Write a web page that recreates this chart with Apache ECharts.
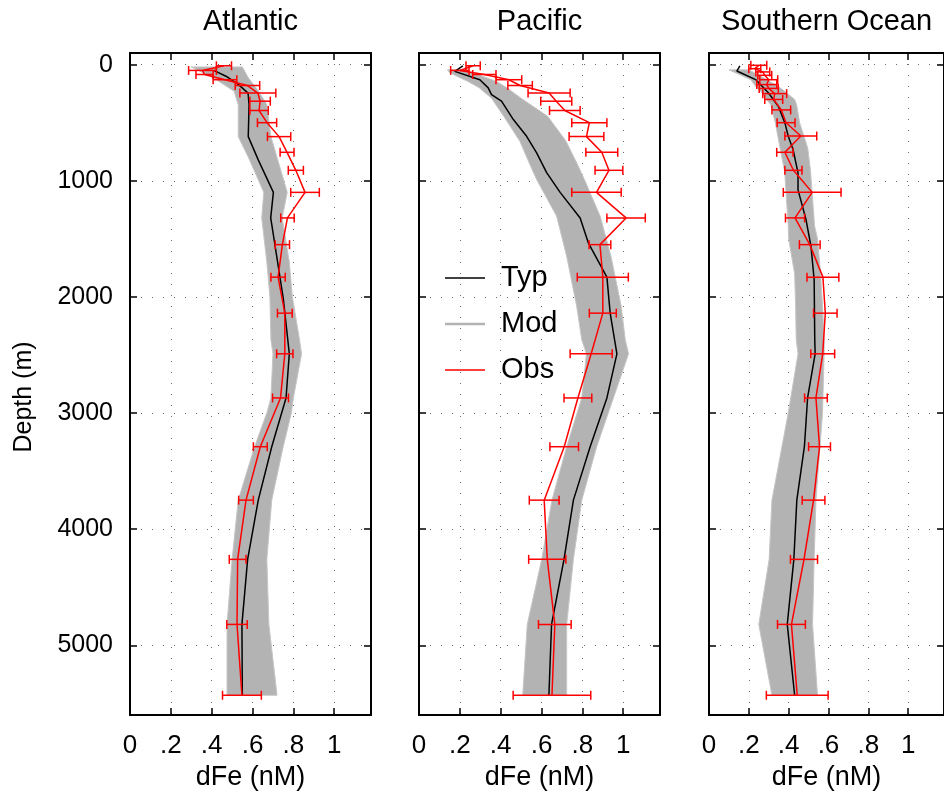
<!DOCTYPE html>
<html>
<head>
<meta charset="utf-8">
<script src="https://cdn.jsdelivr.net/npm/echarts@6/dist/echarts.min.js"></script>
<style>
  html, body { margin: 0; padding: 0; background: #fff; }
  #chart { width: 944px; height: 797px; }
</style>
</head>
<body>
<div id="chart"></div>
<script>
// ---- basin names and axis ticks ----
const basins = ['Atlantic', 'Pacific', 'Southern Ocean'];
const xTickValues = [0, 0.2, 0.4, 0.6, 0.8, 1];
const xTickLabels = ['0', '.2', '.4', '.6', '.8', '1'];
const depthTicks = [0, 1000, 2000, 3000, 4000, 5000];

// ---- Atlantic ----
// observations: depth (m), mean dFe (nM), error half-width (nM)
const atlObsDepth = [10, 50, 85, 130, 180, 245, 315, 395, 500, 620, 755, 910, 1100, 1320, 1550, 1830, 2140, 2490, 2870, 3290, 3750, 4260, 4820, 5430];
const atlObsFe = [0.46, 0.355, 0.365, 0.465, 0.575, 0.626, 0.637, 0.632, 0.671, 0.73, 0.769, 0.812, 0.857, 0.771, 0.746, 0.725, 0.758, 0.758, 0.737, 0.638, 0.568, 0.527, 0.524, 0.548];
const atlObsErr = [0.037, 0.068, 0.042, 0.058, 0.06, 0.088, 0.05, 0.045, 0.047, 0.057, 0.034, 0.037, 0.07, 0.033, 0.035, 0.035, 0.036, 0.04, 0.039, 0.034, 0.036, 0.041, 0.05, 0.095];
// typical model profile
const atlTypDepth = [50, 100, 170, 245, 345, 620, 820, 1100, 1320, 2020, 2490, 2870, 3290, 3750, 4260, 4820, 5430];
const atlTypFe = [0.41, 0.47, 0.53, 0.578, 0.583, 0.579, 0.628, 0.702, 0.689, 0.751, 0.78, 0.764, 0.694, 0.628, 0.576, 0.548, 0.55];
// envelope of the model ensemble
const atlModDepth = [20, 115, 230, 345, 620, 800, 1100, 1320, 1700, 2000, 2370, 2490, 2870, 3000, 3290, 3750, 4260, 4820, 5430];
const atlModLo = [0.30, 0.41, 0.51, 0.53, 0.53, 0.58, 0.655, 0.645, 0.67, 0.685, 0.69, 0.70, 0.69, 0.67, 0.61, 0.53, 0.50, 0.475, 0.475];
const atlModHi = [0.55, 0.58, 0.63, 0.67, 0.69, 0.72, 0.77, 0.745, 0.78, 0.795, 0.83, 0.84, 0.80, 0.79, 0.75, 0.694, 0.67, 0.68, 0.72];

// ---- Pacific ----
const pacObsDepth = [10, 50, 85, 130, 180, 245, 315, 395, 500, 620, 755, 910, 1100, 1320, 1550, 1830, 2140, 2490, 2870, 3290, 3750, 4260, 4820, 5430];
const pacObsFe = [0.265, 0.2, 0.32, 0.44, 0.495, 0.637, 0.672, 0.714, 0.834, 0.82, 0.895, 0.93, 0.869, 1.014, 0.886, 0.9, 0.9, 0.843, 0.778, 0.711, 0.613, 0.628, 0.665, 0.651];
const pacObsErr = [0.035, 0.045, 0.057, 0.063, 0.06, 0.103, 0.076, 0.075, 0.086, 0.085, 0.078, 0.068, 0.121, 0.094, 0.053, 0.125, 0.066, 0.103, 0.068, 0.07, 0.073, 0.091, 0.08, 0.19];
const pacTypDepth = [10, 58, 130, 200, 258, 315, 473, 617, 760, 930, 1100, 1320, 1534, 1830, 2140, 2490, 2870, 3290, 3750, 4260, 4820, 5430];
const pacTypFe = [0.215, 0.175, 0.298, 0.339, 0.355, 0.404, 0.462, 0.527, 0.576, 0.625, 0.691, 0.789, 0.829, 0.92, 0.936, 0.969, 0.92, 0.838, 0.756, 0.71, 0.649, 0.636];
const pacModDepth = [45, 70, 145, 200, 290, 445, 660, 860, 990, 1305, 1650, 2080, 2370, 2490, 2870, 3290, 3750, 4260, 4820, 5430];
const pacModLo = [0.14, 0.15, 0.24, 0.295, 0.355, 0.415, 0.494, 0.543, 0.576, 0.674, 0.723, 0.772, 0.797, 0.82, 0.797, 0.723, 0.651, 0.601, 0.53, 0.508];
const pacModHi = [0.20, 0.265, 0.38, 0.43, 0.50, 0.63, 0.72, 0.776, 0.81, 0.887, 0.94, 0.99, 1.01, 1.026, 0.952, 0.87, 0.797, 0.756, 0.723, 0.723];

// ---- Southern Ocean ----
const souObsDepth = [6, 35, 63, 92, 130, 172, 205, 250, 300, 390, 500, 615, 755, 910, 1100, 1320, 1550, 1830, 2140, 2490, 2870, 3290, 3750, 4260, 4820, 5430];
const souObsFe = [0.25, 0.23, 0.27, 0.28, 0.30, 0.29, 0.30, 0.33, 0.325, 0.363, 0.387, 0.461, 0.381, 0.424, 0.518, 0.432, 0.506, 0.572, 0.584, 0.571, 0.537, 0.555, 0.525, 0.477, 0.414, 0.443];
const souObsErr = [0.04, 0.03, 0.035, 0.035, 0.045, 0.05, 0.048, 0.06, 0.045, 0.047, 0.045, 0.08, 0.041, 0.043, 0.145, 0.048, 0.052, 0.08, 0.059, 0.06, 0.057, 0.055, 0.057, 0.068, 0.07, 0.155];
const souTypDepth = [10, 55, 129, 244, 359, 502, 617, 731, 932, 1079, 1334, 1564, 1850, 2367, 2490, 2870, 3290, 3750, 4260, 4820, 5430];
const souTypFe = [0.155, 0.14, 0.234, 0.299, 0.348, 0.381, 0.398, 0.422, 0.447, 0.447, 0.487, 0.512, 0.528, 0.531, 0.533, 0.495, 0.479, 0.441, 0.426, 0.393, 0.43];
const souModDepth = [45, 130, 190, 230, 300, 345, 500, 720, 920, 1390, 1500, 1800, 2080, 2370, 2490, 3000, 3750, 4260, 4820, 5430];
const souModLo = [0.10, 0.21, 0.235, 0.26, 0.29, 0.31, 0.333, 0.357, 0.38, 0.398, 0.40, 0.43, 0.435, 0.438, 0.447, 0.398, 0.316, 0.302, 0.25, 0.316];
const souModHi = [0.20, 0.29, 0.35, 0.38, 0.43, 0.44, 0.455, 0.496, 0.51, 0.53, 0.545, 0.56, 0.57, 0.578, 0.578, 0.57, 0.537, 0.528, 0.52, 0.545];

const panels = [
  { obsDepth: atlObsDepth, obsFe: atlObsFe, obsErr: atlObsErr, typDepth: atlTypDepth, typFe: atlTypFe, modDepth: atlModDepth, modLo: atlModLo, modHi: atlModHi },
  { obsDepth: pacObsDepth, obsFe: pacObsFe, obsErr: pacObsErr, typDepth: pacTypDepth, typFe: pacTypFe, modDepth: pacModDepth, modLo: pacModLo, modHi: pacModHi },
  { obsDepth: souObsDepth, obsFe: souObsFe, obsErr: souObsErr, typDepth: souTypDepth, typFe: souTypFe, modDepth: souModDepth, modLo: souModLo, modHi: souModHi }
];

const FONT = 'Liberation Sans, Arial, Helvetica, sans-serif';
const RED = '#ff0000';
const GREY = '#b3b3b3';
const gridLefts = [130, 419, 709];
const GRID_W = 241, GRID_TOP = 53, GRID_H = 662;
const X_MAX = 1.18;

const xLabel = v => {
  const i = xTickValues.findIndex(t => Math.abs(t - v) < 1e-6);
  return i >= 0 ? xTickLabels[i] : '';
};
const yLabel = v => (depthTicks.indexOf(v) >= 0 ? String(v) : '');

const dotted = { show: true, lineStyle: { color: '#6a6a6a', width: 1, type: [1, 10] } };
const frameLine = { show: true, onZero: false, lineStyle: { color: '#000', width: 2 } };
const inTick = { show: true, inside: true, length: 7, lineStyle: { color: '#000', width: 1.5 } };

// shaded envelope of the ensemble: left edge down, right edge back up
function renderBand(params, api) {
  if (params.dataIndexInside !== 0) return null;
  const n = params.dataInsideLength;
  const pts = [];
  for (let j = 0; j < n; j++) pts.push(api.coord([api.value(0, j), api.value(1, j)]));
  for (let j = n - 1; j >= 0; j--) pts.push(api.coord([api.value(2, j), api.value(1, j)]));
  return {
    type: 'polygon',
    shape: { points: pts },
    style: { fill: GREY, stroke: '#c6c6c6', lineWidth: 1 }
  };
}

// horizontal error bar with end caps
function renderErrorBar(params, api) {
  const d = api.value(1);
  const a = api.coord([api.value(2), d]);
  const b = api.coord([api.value(3), d]);
  const cap = 4.5;
  const style = { stroke: RED, lineWidth: 1.5 };
  return {
    type: 'group',
    children: [
      { type: 'line', shape: { x1: a[0], y1: a[1], x2: b[0], y2: b[1] }, style },
      { type: 'line', shape: { x1: a[0], y1: a[1] - cap, x2: a[0], y2: a[1] + cap }, style },
      { type: 'line', shape: { x1: b[0], y1: b[1] - cap, x2: b[0], y2: b[1] + cap }, style }
    ]
  };
}

const grid = [], xAxis = [], yAxis = [], series = [];

panels.forEach((p, i) => {
  grid.push({ left: gridLefts[i], top: GRID_TOP, width: GRID_W, height: GRID_H, containLabel: false });

  // bottom x axis with labels
  xAxis.push({
    gridIndex: i, type: 'value', position: 'bottom', min: 0, max: X_MAX, interval: 0.2,
    axisLine: frameLine, axisTick: inTick, splitLine: dotted,
    axisLabel: { formatter: xLabel, fontSize: 26, color: '#000', fontFamily: FONT, margin: 18, showMaxLabel: false },
    name: 'dFe (nM)', nameLocation: 'middle', nameGap: 49,
    nameTextStyle: { fontSize: 27, color: '#000', fontFamily: FONT }
  });
  // top x axis: frame, ticks and basin title
  xAxis.push({
    gridIndex: i, type: 'value', position: 'top', min: 0, max: X_MAX, interval: 0.2,
    axisLine: frameLine, axisTick: inTick, splitLine: { show: false }, axisLabel: { show: false },
    name: basins[i], nameLocation: 'middle', nameGap: 17,
    nameTextStyle: { fontSize: 29, color: '#000', fontFamily: FONT }
  });
  // left depth axis
  yAxis.push({
    gridIndex: i, type: 'value', position: 'left', inverse: true, min: -100, max: 5600, splitNumber: 5,
    axisLine: frameLine, axisTick: inTick, splitLine: dotted,
    axisLabel: { show: i === 0, formatter: yLabel, fontSize: 25, color: '#000', fontFamily: FONT, margin: 17, showMinLabel: false, showMaxLabel: false },
    name: i === 0 ? 'Depth (m)' : '', nameLocation: 'middle', nameGap: 93, nameRotate: 90,
    nameTextStyle: { fontSize: 25, color: '#000', fontFamily: FONT, padding: [0, 26, 0, 0] }
  });
  // right depth axis: frame and ticks only
  yAxis.push({
    gridIndex: i, type: 'value', position: 'right', inverse: true, min: -100, max: 5600, splitNumber: 5,
    axisLine: frameLine, axisTick: inTick, splitLine: { show: false }, axisLabel: { show: false }
  });

  const xi = 2 * i, yi = 2 * i;

  series.push({
    name: 'Mod', type: 'custom', xAxisIndex: xi, yAxisIndex: yi, renderItem: renderBand,
    itemStyle: { color: GREY }, encode: { x: [0, 2], y: 1 }, z: 1, silent: true,
    data: p.modDepth.map((d, k) => [p.modLo[k], d, p.modHi[k]])
  });
  series.push({
    name: 'Typ', type: 'line', xAxisIndex: xi, yAxisIndex: yi, symbol: 'none', z: 3,
    lineStyle: { color: '#000', width: 1.5 }, itemStyle: { color: '#000' },
    data: p.typDepth.map((d, k) => [p.typFe[k], d])
  });
  series.push({
    name: 'Obs', type: 'line', xAxisIndex: xi, yAxisIndex: yi, symbol: 'none', z: 4,
    lineStyle: { color: RED, width: 1.5 }, itemStyle: { color: RED },
    data: p.obsDepth.map((d, k) => [p.obsFe[k], d])
  });
  series.push({
    name: 'Obs', type: 'custom', xAxisIndex: xi, yAxisIndex: yi, renderItem: renderErrorBar,
    itemStyle: { color: RED }, encode: { x: [0, 2, 3], y: 1 }, z: 4, silent: true,
    data: p.obsDepth.map((d, k) => [p.obsFe[k], d, p.obsFe[k] - p.obsErr[k], p.obsFe[k] + p.obsErr[k]])
  });
});

const chart = echarts.init(document.getElementById('chart'), null, { renderer: 'canvas' });
chart.setOption({
  animation: false,
  backgroundColor: '#fff',
  grid, xAxis, yAxis, series,
  legend: {
    orient: 'vertical', left: 440, top: 258, itemWidth: 40, itemHeight: 14, itemGap: 16,
    selectedMode: false, symbolKeepAspect: true,
    textStyle: { fontSize: 29, color: '#000', fontFamily: FONT, lineHeight: 30, padding: [0, 0, 0, 11] },
    data: [
      { name: 'Typ', icon: 'path://M0,0h40v1.5h-40z', itemStyle: { color: '#000' } },
      { name: 'Mod', icon: 'path://M0,0h40v2.5h-40z', itemStyle: { color: GREY } },
      { name: 'Obs', icon: 'path://M0,0h40v1.5h-40z', itemStyle: { color: RED } }
    ]
  }
});
</script>
</body>
</html>
